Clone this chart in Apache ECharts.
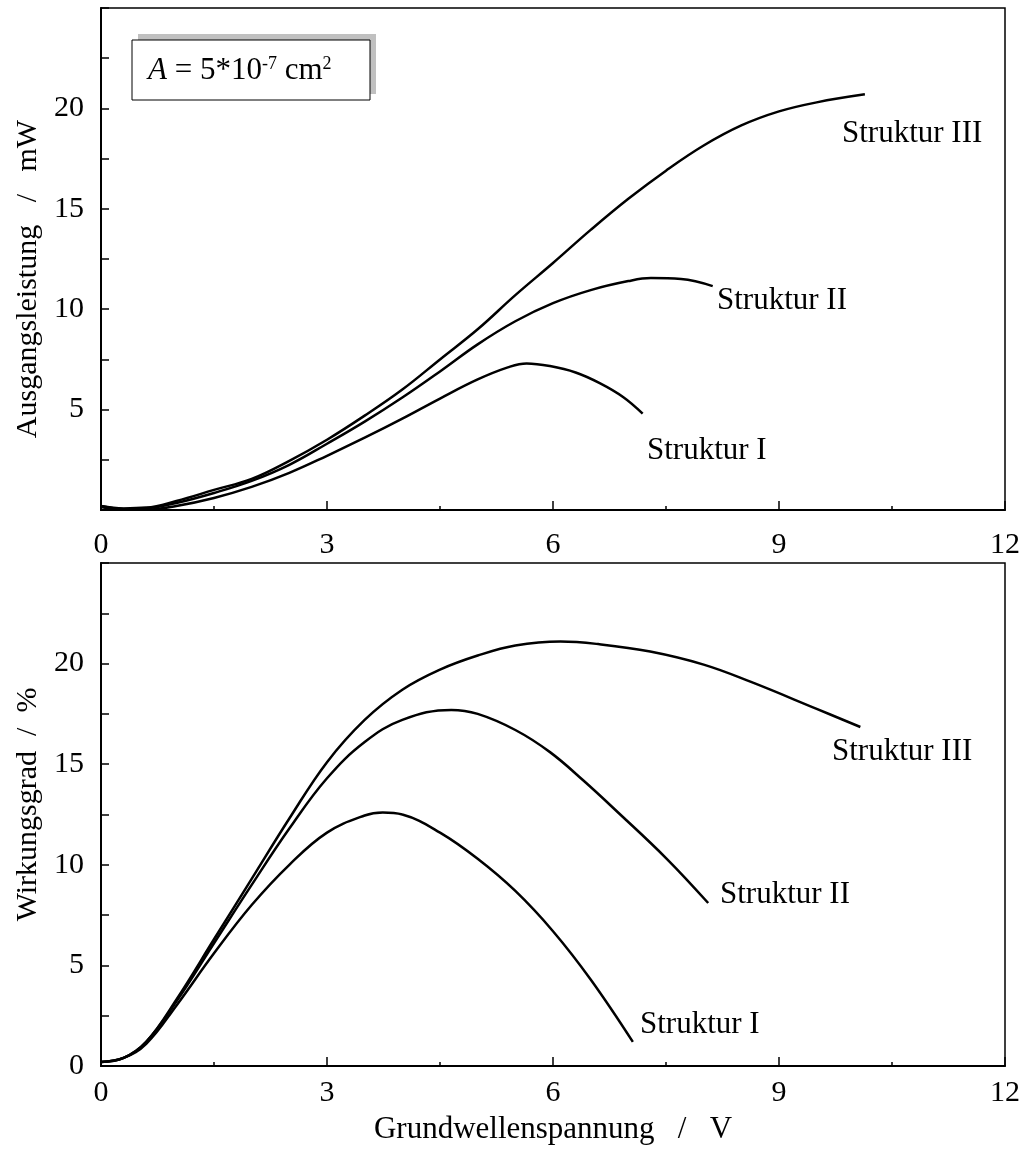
<!DOCTYPE html>
<html>
<head>
<meta charset="utf-8">
<script src="https://cdn.jsdelivr.net/npm/echarts@6/dist/echarts.min.js"></script>
<style>html,body{margin:0;padding:0;background:#fff}#c{width:1024px;height:1152px}</style>
</head>
<body>
<div id="c"></div>
<script>
// ---- data ----
const xTicks = [0, 3, 6, 9, 12];
const seriesNames = ['Struktur I', 'Struktur II', 'Struktur III'];

// Top: Ausgangsleistung / mW
const pI_x   = [0, 0.3, 0.6, 1.0, 1.5, 2.0, 2.5, 3.0, 3.5, 4.0, 4.5, 5.0, 5.4, 5.65, 5.96, 6.3, 6.62, 6.93, 7.19];
const pI_y   = [0.15, 0.02, 0.02, 0.2, 0.6, 1.15, 1.85, 2.7, 3.6, 4.55, 5.55, 6.5, 7.1, 7.3, 7.17, 6.85, 6.32, 5.63, 4.8];
const pII_x  = [0, 0.3, 0.6, 1.0, 1.5, 2.0, 2.5, 3.0, 3.5, 4.0, 4.5, 5.0, 5.5, 6.0, 6.5, 7.0, 7.3, 7.7, 8.12];
const pII_y  = [0.2, 0.05, 0.08, 0.35, 0.85, 1.45, 2.25, 3.3, 4.4, 5.6, 6.9, 8.25, 9.4, 10.3, 10.95, 11.4, 11.55, 11.5, 11.15];
const pIII_x = [0, 0.3, 0.6, 1.0, 1.5, 2.0, 2.5, 3.0, 3.5, 4.0, 4.5, 5.0, 5.5, 6.0, 6.5, 7.0, 7.5, 8.0, 8.5, 9.0, 9.5, 10.14];
const pIII_y = [0.2, 0.08, 0.12, 0.45, 1.0, 1.55, 2.45, 3.5, 4.7, 6.0, 7.5, 9.0, 10.7, 12.3, 13.95, 15.5, 16.9, 18.15, 19.15, 19.85, 20.3, 20.7];

// Bottom: Wirkungsgrad / %
const eI_x   = [0, 0.3, 0.6, 1.0, 1.5, 2.0, 2.5, 3.0, 3.5, 3.74, 4.0, 4.5, 5.0, 5.5, 6.0, 6.5, 7.06];
const eI_y   = [0.2, 0.4, 1.1, 3.0, 5.6, 8.0, 10.0, 11.6, 12.45, 12.6, 12.5, 11.6, 10.3, 8.7, 6.7, 4.3, 1.2];
const eII_x  = [0, 0.3, 0.6, 1.0, 1.5, 2.0, 2.5, 3.0, 3.5, 4.0, 4.65, 5.0, 5.5, 5.96, 6.4, 6.85, 7.51, 8.06];
const eII_y  = [0.2, 0.4, 1.2, 3.2, 6.1, 9.0, 11.8, 14.3, 16.1, 17.2, 17.7, 17.5, 16.7, 15.6, 14.2, 12.65, 10.3, 8.1];
const eIII_x = [0, 0.3, 0.6, 1.0, 1.5, 2.0, 2.5, 3.0, 3.5, 4.0, 4.5, 5.0, 5.5, 6.1, 6.6, 7.29, 8.0, 8.62, 9.5, 10.08];
const eIII_y = [0.2, 0.4, 1.2, 3.3, 6.3, 9.3, 12.3, 15.1, 17.2, 18.7, 19.7, 20.4, 20.9, 21.1, 20.97, 20.6, 19.95, 19.1, 17.75, 16.85];

const yTickLabelsTop = [5, 10, 15, 20];
const yTickLabelsBottom = [0, 5, 10, 15, 20];

// ---- chart ----
const FONT = '"Liberation Serif", "Times New Roman", serif';
const FS = 30;
const zip = (xs, ys) => xs.map((x, i) => [x, ys[i]]);

function xAxis(gridIndex, name, margin) {
  return {
    gridIndex, type: 'value', min: 0, max: 12, interval: 3,
    name: name || '', nameLocation: 'middle', nameGap: 48,
    nameTextStyle: { fontFamily: FONT, fontSize: 31, color: '#000' },
    axisLine: { show: true, onZero: false, lineStyle: { color: '#000', width: 2 } },
    axisTick: { show: true, inside: true, length: 9, lineStyle: { color: '#000', width: 1.5 } },
    minorTick: { show: true, splitNumber: 2, length: 4, lineStyle: { color: '#000', width: 1.5 } },
    axisLabel: { fontFamily: FONT, fontSize: FS, color: '#000', margin,
      formatter: v => xTicks.indexOf(v) >= 0 ? String(v) : '' },
    splitLine: { show: false }
  };
}
function yAxis(gridIndex, name, labels, pad) {
  return {
    gridIndex, type: 'value', min: 0, max: 25, interval: 2.5,
    name, nameLocation: 'middle', nameRotate: 90, nameGap: 58,
    nameTextStyle: { fontFamily: FONT, fontSize: FS, color: '#000', padding: pad },
    axisLine: { show: true, onZero: false, lineStyle: { color: '#000', width: 2 } },
    axisTick: { show: true, inside: true, length: 8, lineStyle: { color: '#000', width: 1.5 } },
    axisLabel: { fontFamily: FONT, fontSize: FS, color: '#000', margin: 17,
      formatter: v => labels.indexOf(v) >= 0 ? String(v) : '' },
    splitLine: { show: false }
  };
}
function line(name, xi, yi, data) {
  return {
    name, type: 'line', xAxisIndex: xi, yAxisIndex: yi, data,
    smooth: 0.4, showSymbol: false, symbol: 'none',
    lineStyle: { color: '#000', width: 2.5 }, silent: true, animation: false
  };
}
function label(text, x, y) {
  return { type: 'text', x, y, silent: true,
    style: { text, font: '31px ' + FONT, fill: '#000', verticalAlign: 'middle', align: 'left' } };
}

const chart = echarts.init(document.getElementById('c'), null, { renderer: 'canvas' });
chart.setOption({
  animation: false,
  backgroundColor: '#fff',
  grid: [
    { left: 101, top: 8, width: 904, height: 502, show: true, borderColor: '#000', borderWidth: 1.5, backgroundColor: 'transparent' },
    { left: 101, top: 563, width: 904, height: 503, show: true, borderColor: '#000', borderWidth: 1.5, backgroundColor: 'transparent' }
  ],
  xAxis: [xAxis(0, '', 20), xAxis(1, 'Grundwellenspannung   /   V', 12)],
  yAxis: [
    yAxis(0, 'Ausgangsleistung   /   mW', yTickLabelsTop, [0, 40, 0, 0]),
    yAxis(1, 'Wirkungsgrad  /  %', yTickLabelsBottom, [0, 0, 0, 20])
  ],
  series: [
    line(seriesNames[0], 0, 0, zip(pI_x, pI_y)),
    line(seriesNames[1], 0, 0, zip(pII_x, pII_y)),
    line(seriesNames[2], 0, 0, zip(pIII_x, pIII_y)),
    line(seriesNames[0], 1, 1, zip(eI_x, eI_y)),
    line(seriesNames[1], 1, 1, zip(eII_x, eII_y)),
    line(seriesNames[2], 1, 1, zip(eIII_x, eIII_y))
  ],
  graphic: [
    { type: 'rect', shape: { x: 138, y: 34, width: 238, height: 60 }, style: { fill: '#c0c0c0' }, silent: true },
    { type: 'rect', shape: { x: 132, y: 40, width: 238, height: 60 }, style: { fill: '#fff', stroke: '#000', lineWidth: 1 }, silent: true },
    { type: 'text', x: 148, y: 71, silent: true,
      style: {
        text: '{i|A} = 5*10{s|-7} cm{s|2}',
        font: '31px ' + FONT, fill: '#000', verticalAlign: 'middle',
        rich: {
          i: { fontFamily: FONT, fontSize: 31, fontStyle: 'italic', fill: '#000' },
          s: { fontFamily: FONT, fontSize: 18, fill: '#000', verticalAlign: 'top', padding: [0, 0, 10, 0] }
        }
      } },
    label('Struktur III', 842, 134),
    label('Struktur II', 717, 301),
    label('Struktur I', 647, 451),
    label('Struktur III', 832, 752),
    label('Struktur II', 720, 895),
    label('Struktur I', 640, 1025)
  ]
});
</script>
</body>
</html>
